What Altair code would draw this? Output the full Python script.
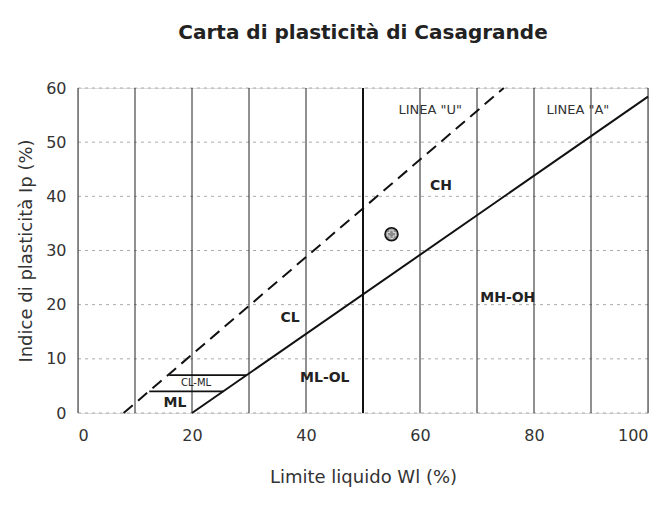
import altair as alt
import pandas as pd

# grid and ticks
x_grid = [0, 10, 20, 30, 40, 60, 70, 80, 90, 100]
x_bold = [50]
y_grid = [0, 10, 20, 30, 40, 50, 60]
x_ticks = [0, 20, 40, 60, 80, 100]
y_ticks = [0, 10, 20, 30, 40, 50, 60]

# Casagrande lines
a_line_wl = [20, 100]
a_line_ip = [0, 58.4]
u_line_wl = [8, 74.7]
u_line_ip = [0, 60]
clml_top_wl = [16.0, 29.6]
clml_top_ip = [7, 7]
clml_bot_wl = [12.5, 25.5]
clml_bot_ip = [4, 4]

# sample point
sample_wl = [55]
sample_ip = [33]

# zone labels
zone_labels = ["CH", "MH-OH", "CL", "ML-OL", "ML"]
zone_wl = [63.7, 75.4, 37.2, 43.3, 17.0]
zone_ip = [41.9, 21.3, 17.6, 6.5, 1.9]
small_labels = ["CL-ML"]
small_wl = [20.7]
small_ip = [5.6]
line_labels = ['LINEA "U"', 'LINEA "A"']
line_lab_wl = [61.8, 87.7]
line_lab_ip = [56, 56]

FONT = "DejaVu Sans"

xs = alt.Scale(domain=[0, 100], nice=False, zero=False)
ys = alt.Scale(domain=[0, 60], nice=False, zero=False)

xaxis = alt.Axis(values=x_ticks, grid=False, domain=False, ticks=False,
                 labelFontSize=16, labelPadding=14, labelColor="#333",
                 labelFont=FONT, title="Limite liquido Wl (%)", titleFont=FONT,
                 titleFontSize=18, titleFontWeight="normal", titleColor="#333",
                 titlePadding=25)
yaxis = alt.Axis(values=y_ticks, grid=False, domain=False, ticks=False,
                 labelFontSize=16, labelPadding=12, labelColor="#333",
                 labelFont=FONT, title="Indice di plasticità Ip (%)", titleFont=FONT,
                 titleFontSize=18, titleFontWeight="normal", titleColor="#333",
                 titlePadding=10)

hgrid = alt.Chart(pd.DataFrame({"ip": y_grid})).mark_rule(
    color="#aaa", strokeDash=[3, 4], strokeWidth=1
).encode(y=alt.Y("ip:Q", scale=ys, axis=yaxis))

vgrid = alt.Chart(pd.DataFrame({"wl": x_grid})).mark_rule(
    color="#222", strokeWidth=1
).encode(x=alt.X("wl:Q", scale=xs, axis=xaxis))

vbold = alt.Chart(pd.DataFrame({"wl": x_bold})).mark_rule(
    color="#111", strokeWidth=2
).encode(x=alt.X("wl:Q", scale=xs))

def seg(wl, ip, dash=None, width=2):
    df = pd.DataFrame({"wl": wl, "ip": ip})
    kw = dict(color="#111", strokeWidth=width)
    if dash:
        kw["strokeDash"] = dash
    return alt.Chart(df).mark_line(**kw).encode(
        x=alt.X("wl:Q", scale=xs), y=alt.Y("ip:Q", scale=ys))

a_line = seg(a_line_wl, a_line_ip)
u_line = seg(u_line_wl, u_line_ip, dash=[12, 7])
top_l = seg(clml_top_wl, clml_top_ip, width=1.6)
bot_l = seg(clml_bot_wl, clml_bot_ip, width=1.6)

pt_df = pd.DataFrame({"wl": sample_wl, "ip": sample_ip})
point = alt.Chart(pt_df).mark_point(
    shape="circle", size=170, filled=True, fill="#8a8a8a", stroke="#111", strokeWidth=1.5, opacity=1
).encode(x=alt.X("wl:Q", scale=xs), y=alt.Y("ip:Q", scale=ys))
point_x = alt.Chart(pt_df).mark_point(
    shape="cross", size=70, filled=False, stroke="#eee", strokeWidth=0.8, opacity=1
).encode(x=alt.X("wl:Q", scale=xs), y=alt.Y("ip:Q", scale=ys))

zones = alt.Chart(pd.DataFrame({"t": zone_labels, "wl": zone_wl, "ip": zone_ip})).mark_text(
    font=FONT, fontSize=14, fontWeight="bold", color="#222"
).encode(x=alt.X("wl:Q", scale=xs), y=alt.Y("ip:Q", scale=ys), text="t:N")

small = alt.Chart(pd.DataFrame({"t": small_labels, "wl": small_wl, "ip": small_ip})).mark_text(
    font=FONT, fontSize=10, color="#222"
).encode(x=alt.X("wl:Q", scale=xs), y=alt.Y("ip:Q", scale=ys), text="t:N")

line_txt = alt.Chart(pd.DataFrame({"t": line_labels, "wl": line_lab_wl, "ip": line_lab_ip})).mark_text(
    font=FONT, fontSize=13, color="#333"
).encode(x=alt.X("wl:Q", scale=xs), y=alt.Y("ip:Q", scale=ys), text="t:N")

chart = alt.layer(
    hgrid, vgrid, vbold, a_line, u_line, top_l, bot_l, point, point_x, zones, small, line_txt
).properties(
    width=570, height=325,
    title=alt.TitleParams("Carta di plasticità di Casagrande", font=FONT, fontSize=20,
                          fontWeight="bold", color="#222", anchor="middle", offset=37),
    autosize=alt.AutoSizeParams(type="none"),
    padding={"left": 70, "top": 80, "right": 10, "bottom": 80},
).configure_view(stroke=None).configure(background="white")

chart.save("out.html", embed_options={"renderer": "svg", "actions": False})
